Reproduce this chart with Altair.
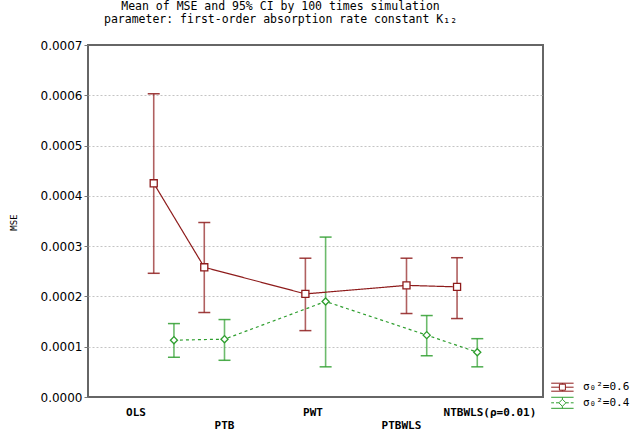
import altair as alt
import pandas as pd

# ---- data ----
categories = ["OLS", "PTB", "PWT", "PTBWLS", "NTBWLS(ρ=0.01)"]
tick_pos = [1, 2.75, 4.5, 6.25, 8]
series_names = ["σ₀²=0.6", "σ₀²=0.4"]

red_x = [1.3, 2.3, 4.3, 6.3, 7.3]
red_mean = [0.000425, 0.000258, 0.000205, 0.000222, 0.000219]
red_lo = [0.000246, 0.000168, 0.000132, 0.000166, 0.000156]
red_hi = [0.000603, 0.000347, 0.000276, 0.000276, 0.000277]

green_x = [1.7, 2.7, 4.7, 6.7, 7.7]
green_mean = [0.000113, 0.000115, 0.000190, 0.000123, 0.000089]
green_lo = [0.000079, 0.000073, 0.000060, 0.000082, 0.000060]
green_hi = [0.000146, 0.000154, 0.000318, 0.000162, 0.000116]

y_ticks = [0, 0.0001, 0.0002, 0.0003, 0.0004, 0.0005, 0.0006, 0.0007]

colors = ["#8e1c1c", "#2e9e2e"]

rows = []
for s, xs, m, lo, hi in [
    (series_names[0], red_x, red_mean, red_lo, red_hi),
    (series_names[1], green_x, green_mean, green_lo, green_hi),
]:
    for i in range(len(xs)):
        rows.append({"series": s, "x": xs[i], "mean": m[i], "lo": lo[i], "hi": hi[i], "order": i})
df = pd.DataFrame(rows)

# label expression: alternate rows (staggered labels)
parts = []
for i, (p, c) in enumerate(zip(tick_pos, categories)):
    lab = f"'{c}'" if i % 2 == 0 else f"['', '{c}']"
    parts.append((p, lab))
expr = ""
for p, lab in parts[:-1]:
    expr += f"datum.value == {p} ? {lab} : "
expr += parts[-1][1]

x_scale = alt.Scale(domain=[0, 9], nice=False, zero=False)
y_scale = alt.Scale(domain=[0, 0.0007], nice=False)
col_scale = alt.Scale(domain=series_names, range=colors)

x_axis = alt.Axis(
    values=tick_pos, labelExpr=expr, title=None, grid=False, domain=False,
    ticks=False, tickSize=0, labelPadding=9, labelBaseline="top",
    labelFont="DejaVu Sans Mono", labelFontWeight="bold", labelFontSize=11,
    labelColor="#000", labelLineHeight=13, labelOffset=-3,
    labelOverlap=False, labelBound=False,
)
y_axis = alt.Axis(
    values=y_ticks, format=".4f", title="MSE", grid=True, gridColor="#c4c4c4",
    gridDash=[2, 2], gridWidth=1,
    gridOpacity={"condition": {"test": "datum.value >= 0.00069 || datum.value <= 0", "value": 0}, "value": 1},
    domain=False, tickSize=4, tickColor="#777",
    labelPadding=2, labelFont="DejaVu Sans", labelFontSize=12, labelColor="#000",
    titleFont="DejaVu Sans Mono", titleFontSize=9, titleFontWeight="normal",
    titleColor="#000", titleX=-74.5, titleY=177, titleAngle=270,
    titleBaseline="middle", titleAlign="center",
)

# legend icons (error-bar style), in symbol units (1 unit = 8 px)
red_icon = ("M-1.4,-0.5H1.4M-1.4,0.5H1.4M0,-0.5V-0.375M0,0.375V0.5M-1.4,0H-0.375M0.375,0H1.4"
            "M-0.375,-0.375H0.375V0.375H-0.375Z")
green_icon = ("M-1.4,-0.69H1.4M-1.4,0.69H1.4M0,-0.69V-0.44M0,0.44V0.69"
              "M-1.4,0H-1.05M-0.8,0H-0.44M0.44,0H0.8M1.05,0H1.4M0,-0.44L0.44,0L0,0.44L-0.44,0Z")

legend = alt.Legend(
    title=None, orient="none", legendX=465.9, legendY=333.7, padding=0,
    symbolSize=256, symbolStrokeWidth=1, rowPadding=0.6, labelOffset=12,
    labelFont="DejaVu Sans Mono", labelFontSize=11, labelColor="#000",
    symbolOpacity=1,
)

color_enc = alt.Color("series:N", scale=col_scale, legend=None)

base = alt.Chart(df)

rules = base.mark_rule(strokeWidth=1.6, opacity=0.7).encode(
    x=alt.X("x:Q", scale=x_scale, axis=x_axis),
    y=alt.Y("lo:Q", scale=y_scale, axis=y_axis),
    y2="hi:Q",
    color=color_enc,
)
caps_hi = base.mark_tick(orient="horizontal", size=12, thickness=1.5, opacity=0.85).encode(
    x="x:Q", y="hi:Q", color=color_enc,
)
caps_lo = base.mark_tick(orient="horizontal", size=12, thickness=1.5, opacity=0.85).encode(
    x="x:Q", y="lo:Q", color=color_enc,
)
lines = base.mark_line(strokeWidth=1.2).encode(
    x="x:Q", y="mean:Q", order="order:Q",
    color=color_enc,
    strokeDash=alt.StrokeDash("series:N", scale=alt.Scale(domain=series_names, range=[[1, 0], [3, 3]]), legend=None),
)
points = base.mark_point(filled=False, fill="white", strokeWidth=1.3, opacity=1).encode(
    x="x:Q", y="mean:Q",
    color=color_enc,
    shape=alt.Shape("series:N", scale=alt.Scale(domain=series_names, range=["square", "diamond"]), legend=None),
    size=alt.value(50),
)
legend_layer = base.transform_filter("false").mark_point(filled=False, strokeWidth=1).encode(
    x="x:Q", y="mean:Q",
    color=alt.Color("series:N", scale=col_scale, legend=legend),
    shape=alt.Shape("series:N", scale=alt.Scale(domain=series_names, range=[red_icon, green_icon]), legend=legend),
)

chart = (
    alt.layer(rules, caps_hi, caps_lo, lines, points, legend_layer)
    .resolve_scale(shape="independent", color="independent", strokeDash="independent")
    .properties(
        width=455, height=352,
        autosize=alt.AutoSizeParams(type="none"),
        padding={"left": 88, "top": 45, "right": 92, "bottom": 35},
        title=alt.TitleParams(
            text=["Mean of MSE and 95% CI by 100 times simulation",
                  "parameter: first-order absorption rate constant K₁₂"],
            font="DejaVu Sans Mono", fontSize=11.5, fontWeight="normal", color="#000",
            anchor="middle", dx=-35, offset=14, lineHeight=12.5,
        ),
        background="white",
    )
    .configure_view(stroke="#666", strokeWidth=2)
)

chart.save("out.html", embed_options={"renderer": "svg", "actions": False})
